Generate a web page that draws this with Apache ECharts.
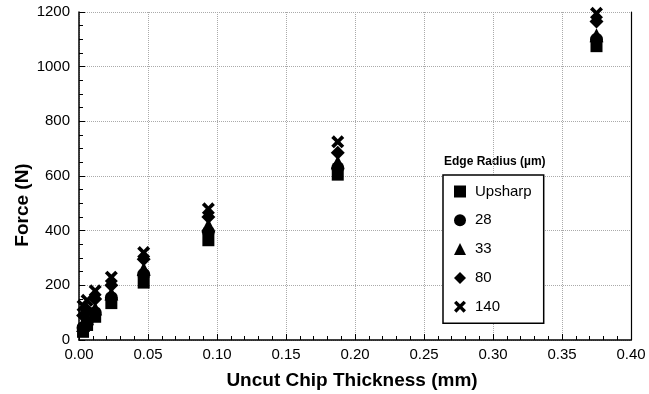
<!DOCTYPE html>
<html>
<head>
<meta charset="utf-8">
<script src="https://cdn.jsdelivr.net/npm/echarts@6/dist/echarts.min.js"></script>
<style>
  html, body { margin: 0; padding: 0; background: #fff; }
  #chart { width: 649px; height: 394px; }
</style>
</head>
<body>
<div id="chart"></div>
<script>
// Uncut chip thickness (mm) for each cut
const thickness = [0.375, 0.1875, 0.09375, 0.046875, 0.0234375, 0.01171875, 0.005859375, 0.0029296875];

// Cutting force (N) per edge radius
const edgeUpsharp = [1075, 605, 365, 210, 135, 85, 55, 30];
const edge28 = [1100, 630, 395, 240, 155, 100, 65, 45];
const edge33 = [1115, 650, 420, 260, 170, 115, 80, 55];
const edge80 = [1165, 685, 450, 295, 200, 150, 110, 90];
const edge140 = [1195, 725, 480, 320, 230, 180, 145, 125];

const seriesNames = ['Upsharp', '28', '33', '80', '140'];
const xTicks = ['0.00', '0.05', '0.10', '0.15', '0.20', '0.25', '0.30', '0.35', '0.40'];
const legendTitle = 'Edge Radius (µm)';

const crossPath = 'path://M2,0 L5,3 L8,0 L10,2 L7,5 L10,8 L8,10 L5,7 L2,10 L0,8 L3,5 L0,2 Z';
const symbols = ['rect', 'circle', 'triangle', 'diamond', crossPath];
const sizes = [12, 13, 14, 14, 13];
const values = [edgeUpsharp, edge28, edge33, edge80, edge140];

const FONT = '"Liberation Sans", Arial, Helvetica, sans-serif';

const chart = echarts.init(document.getElementById('chart'), null, { renderer: 'canvas' });

const series = seriesNames.map((name, i) => ({
  name: name,
  type: 'scatter',
  symbol: symbols[i],
  symbolSize: sizes[i],
  itemStyle: { color: '#000', opacity: 1 },
  emphasis: { disabled: true },
  data: thickness.map((x, j) => [x, values[i][j]]),
  z: 2 + i
}));

chart.setOption({
  animation: false,
  backgroundColor: '#fff',
  grid: { left: 79, right: 18, top: 12, bottom: 54, containLabel: false, outerBoundsMode: 'none' },
  xAxis: {
    type: 'value',
    min: 0, max: 0.4, interval: 0.05,
    name: 'Uncut Chip Thickness (mm)',
    nameLocation: 'middle',
    nameGap: 31,
    nameMoveOverlap: false,
    nameTextStyle: { fontFamily: FONT, fontSize: 19, fontWeight: 'bold', color: '#000', padding: [0, 6, 0, 0] },
    axisLine: { lineStyle: { color: '#000', width: 1.5 } },
    axisTick: { inside: true, length: 6, lineStyle: { color: '#000' } },
    minorTick: { show: true, splitNumber: 5, length: 4, lineStyle: { color: '#000' } },
    axisLabel: {
      fontFamily: FONT, fontSize: 15, color: '#000', margin: 7,
      formatter: (v) => xTicks[Math.round(v / 0.05)]
    },
    splitLine: { show: true, lineStyle: { color: '#aaa', type: 'dotted', width: 1 } }
  },
  yAxis: [{
    type: 'value',
    min: 0, max: 1200, interval: 200,
    name: 'Force (N)',
    nameLocation: 'middle',
    nameGap: 47,
    nameMoveOverlap: false,
    nameTextStyle: { fontFamily: FONT, fontSize: 19, fontWeight: 'bold', color: '#000', padding: [0, 58, 0, 0] },
    axisLine: { show: true, lineStyle: { color: '#000', width: 1.5 } },
    axisTick: { show: true, inside: true, length: 6, lineStyle: { color: '#000' } },
    minorTick: { show: true, splitNumber: 4, length: 4, lineStyle: { color: '#000' } },
    axisLabel: { fontFamily: FONT, fontSize: 15, color: '#000', margin: 9, formatter: (v) => String(v) },
    splitLine: { show: true, lineStyle: { color: '#aaa', type: 'dotted', width: 1 } }
  }, {
    type: 'value',
    position: 'right',
    min: 0, max: 1200, interval: 200,
    axisLine: { show: true, lineStyle: { color: '#000', width: 1.2 } },
    axisTick: { show: false },
    axisLabel: { show: false },
    splitLine: { show: false }
  }],
  legend: {
    orient: 'vertical',
    left: 443,
    top: 175,
    data: seriesNames,
    itemWidth: 12,
    itemHeight: 12,
    itemGap: 13.8,
    padding: [9, 12, 9, 11],
    backgroundColor: '#fff',
    borderColor: '#000',
    borderWidth: 1.5,
    borderRadius: 0,
    selectedMode: false,
    textStyle: { fontFamily: FONT, fontSize: 15, color: '#000', padding: [0, 0, 0, 4] },
    itemStyle: { color: '#000', opacity: 1 }
  },
  graphic: [{
    type: 'text',
    left: 444,
    top: 156,
    style: { text: legendTitle, font: 'bold 12px ' + FONT, fill: '#000' }
  }],
  series: series
});
</script>
</body>
</html>
